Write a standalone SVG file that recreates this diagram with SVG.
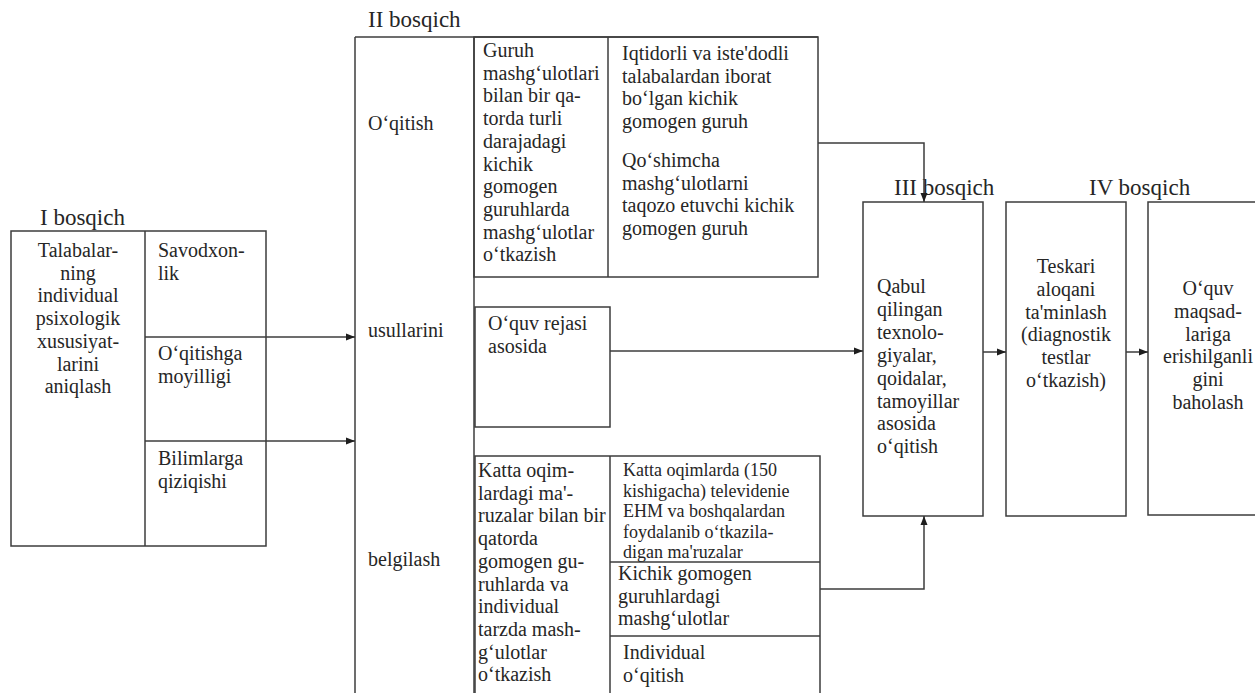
<svg xmlns="http://www.w3.org/2000/svg" width="1255" height="693" viewBox="0 0 1255 693">
  <defs>
    <marker id="arr" markerUnits="userSpaceOnUse" markerWidth="10" markerHeight="8" refX="9" refY="4" orient="auto">
      <path d="M0,0.5 L9,4 L0,7.5 z" fill="#1e1e1e"/>
    </marker>
  </defs>
  <rect width="1255" height="693" fill="#ffffff"/>

  <!-- Stage I -->
  <g id="stage1">
    <g fill="none" stroke="#3c3c3c" stroke-width="1.5">
      <rect x="11" y="231" width="255" height="315"/>
      <line x1="145" y1="231" x2="145" y2="546"/>
      <line x1="145" y1="337" x2="266" y2="337"/>
      <line x1="145" y1="441" x2="266" y2="441"/>
    </g>
    <text font-family="Tinos, Times New Roman, Liberation Serif, serif" font-size="23" fill="#262626" x="40" y="225">I bosqich</text>
    <text font-family="Tinos, Times New Roman, Liberation Serif, serif" font-size="20" fill="#262626" text-anchor="middle" x="78" y="257"><tspan x="78">Talabalar-</tspan><tspan x="78" dy="22.7">ning</tspan><tspan x="78" dy="22.7">individual</tspan><tspan x="78" dy="22.7">psixologik</tspan><tspan x="78" dy="22.7">xususiyat-</tspan><tspan x="78" dy="22.7">larini</tspan><tspan x="78" dy="22.7">aniqlash</tspan></text>
    <text font-family="Tinos, Times New Roman, Liberation Serif, serif" font-size="20" fill="#262626" x="158" y="257"><tspan x="158">Savodxon-</tspan><tspan x="158" dy="22.7">lik</tspan></text>
    <text font-family="Tinos, Times New Roman, Liberation Serif, serif" font-size="20" fill="#262626" x="158" y="360"><tspan x="158">O‘qitishga</tspan><tspan x="158" dy="22.7">moyilligi</tspan></text>
    <text font-family="Tinos, Times New Roman, Liberation Serif, serif" font-size="20" fill="#262626" x="158" y="465"><tspan x="158">Bilimlarga</tspan><tspan x="158" dy="22.7">qiziqishi</tspan></text>
  </g>

  <!-- Stage II: methods column -->
  <g id="stage2">
    <g fill="none" stroke="#3c3c3c" stroke-width="1.5">
      <line x1="355" y1="37" x2="818" y2="37"/>
      <line x1="355" y1="37" x2="355" y2="693"/>
      <line x1="474" y1="37" x2="474" y2="693"/>
    </g>
    <text font-family="Tinos, Times New Roman, Liberation Serif, serif" font-size="23" fill="#262626" x="368" y="27">II bosqich</text>
    <text font-family="Tinos, Times New Roman, Liberation Serif, serif" font-size="20" fill="#262626" x="368" y="130">O‘qitish</text>
    <text font-family="Tinos, Times New Roman, Liberation Serif, serif" font-size="20" fill="#262626" x="368" y="337">usullarini</text>
    <text font-family="Tinos, Times New Roman, Liberation Serif, serif" font-size="20" fill="#262626" x="368" y="566">belgilash</text>
  </g>

  <!-- Stage II: group sessions -->
  <g id="group-sessions">
    <g fill="none" stroke="#3c3c3c" stroke-width="1.5">
      <rect x="474" y="37" width="344" height="240"/>
      <line x1="608" y1="37" x2="608" y2="277"/>
    </g>
    <text font-family="Tinos, Times New Roman, Liberation Serif, serif" font-size="20" fill="#262626" x="483" y="57"><tspan x="483">Guruh</tspan><tspan x="483" dy="22.7">mashg‘ulotlari</tspan><tspan x="483" dy="22.7">bilan bir qa-</tspan><tspan x="483" dy="22.7">torda turli</tspan><tspan x="483" dy="22.7">darajadagi</tspan><tspan x="483" dy="22.7">kichik</tspan><tspan x="483" dy="22.7">gomogen</tspan><tspan x="483" dy="22.7">guruhlarda</tspan><tspan x="483" dy="22.7">mashg‘ulotlar</tspan><tspan x="483" dy="22.7">o‘tkazish</tspan></text>
    <text font-family="Tinos, Times New Roman, Liberation Serif, serif" font-size="20" fill="#262626" x="622" y="60"><tspan x="622">Iqtidorli va iste'dodli</tspan><tspan x="622" dy="22.7">talabalardan iborat</tspan><tspan x="622" dy="22.7">bo‘lgan kichik</tspan><tspan x="622" dy="22.7">gomogen guruh</tspan></text>
    <text font-family="Tinos, Times New Roman, Liberation Serif, serif" font-size="20" fill="#262626" x="622" y="167"><tspan x="622">Qo‘shimcha</tspan><tspan x="622" dy="22.7">mashg‘ulotlarni</tspan><tspan x="622" dy="22.7">taqozo etuvchi kichik</tspan><tspan x="622" dy="22.7">gomogen guruh</tspan></text>
  </g>

  <!-- Stage II: curriculum -->
  <g id="curriculum">
    <rect x="475" y="307" width="135" height="120" fill="none" stroke="#3c3c3c" stroke-width="1.5"/>
    <text font-family="Tinos, Times New Roman, Liberation Serif, serif" font-size="20" fill="#262626" x="488" y="330"><tspan x="488">O‘quv rejasi</tspan><tspan x="488" dy="22.7">asosida</tspan></text>
  </g>

  <!-- Stage II: lectures and individual work -->
  <g id="lectures">
    <g fill="none" stroke="#3c3c3c" stroke-width="1.5">
      <polyline points="475,693 475,456 820,456 820,693"/>
      <line x1="610" y1="456" x2="610" y2="693"/>
      <line x1="610" y1="562" x2="820" y2="562"/>
      <line x1="610" y1="636" x2="820" y2="636"/>
    </g>
    <text font-family="Tinos, Times New Roman, Liberation Serif, serif" font-size="20" fill="#262626" x="478" y="477"><tspan x="478">Katta oqim-</tspan><tspan x="478" dy="22.7">lardagi ma'-</tspan><tspan x="478" dy="22.7">ruzalar bilan bir</tspan><tspan x="478" dy="22.7">qatorda</tspan><tspan x="478" dy="22.7">gomogen gu-</tspan><tspan x="478" dy="22.7">ruhlarda va</tspan><tspan x="478" dy="22.7">individual</tspan><tspan x="478" dy="22.7">tarzda mash-</tspan><tspan x="478" dy="22.7">g‘ulotlar</tspan><tspan x="478" dy="22.7">o‘tkazish</tspan></text>
    <text font-family="Tinos, Times New Roman, Liberation Serif, serif" font-size="18" fill="#262626" x="623" y="476"><tspan x="623">Katta oqimlarda (150</tspan><tspan x="623" dy="20.5">kishigacha) televidenie</tspan><tspan x="623" dy="20.5">EHM va boshqalardan</tspan><tspan x="623" dy="20.5">foydalanib o‘tkazila-</tspan><tspan x="623" dy="20.5">digan ma'ruzalar</tspan></text>
    <text font-family="Tinos, Times New Roman, Liberation Serif, serif" font-size="20" fill="#262626" x="618" y="580"><tspan x="618">Kichik gomogen</tspan><tspan x="618" dy="22.7">guruhlardagi</tspan><tspan x="618" dy="22.7">mashg‘ulotlar</tspan></text>
    <text font-family="Tinos, Times New Roman, Liberation Serif, serif" font-size="20" fill="#262626" x="623" y="659"><tspan x="623">Individual</tspan><tspan x="623" dy="22.7">o‘qitish</tspan></text>
  </g>

  <!-- Stage III -->
  <g id="stage3">
    <rect x="863" y="202" width="120" height="314" fill="none" stroke="#3c3c3c" stroke-width="1.5"/>
    <text font-family="Tinos, Times New Roman, Liberation Serif, serif" font-size="23" fill="#262626" x="894" y="195">III bosqich</text>
    <text font-family="Tinos, Times New Roman, Liberation Serif, serif" font-size="20" fill="#262626" x="877" y="293"><tspan x="877">Qabul</tspan><tspan x="877" dy="22.9">qilingan</tspan><tspan x="877" dy="22.9">texnolo-</tspan><tspan x="877" dy="22.9">giyalar,</tspan><tspan x="877" dy="22.9">qoidalar,</tspan><tspan x="877" dy="22.9">tamoyillar</tspan><tspan x="877" dy="22.9">asosida</tspan><tspan x="877" dy="22.9">o‘qitish</tspan></text>
  </g>

  <!-- Stage IV: feedback -->
  <g id="stage4">
    <rect x="1006" y="202" width="120" height="314" fill="none" stroke="#3c3c3c" stroke-width="1.5"/>
    <text font-family="Tinos, Times New Roman, Liberation Serif, serif" font-size="23" fill="#262626" x="1089" y="195">IV bosqich</text>
    <text font-family="Tinos, Times New Roman, Liberation Serif, serif" font-size="20" fill="#262626" text-anchor="middle" x="1066" y="273"><tspan x="1066">Teskari</tspan><tspan x="1066" dy="22.8">aloqani</tspan><tspan x="1066" dy="22.8">ta'minlash</tspan><tspan x="1066" dy="22.8">(diagnostik</tspan><tspan x="1066" dy="22.8">testlar</tspan><tspan x="1066" dy="22.8">o‘tkazish)</tspan></text>
  </g>

  <!-- Stage IV: evaluation -->
  <g id="evaluation">
    <rect x="1148" y="202" width="130" height="313" fill="none" stroke="#3c3c3c" stroke-width="1.5"/>
    <text font-family="Tinos, Times New Roman, Liberation Serif, serif" font-size="20" fill="#262626" text-anchor="middle" x="1208" y="295"><tspan x="1208">O‘quv</tspan><tspan x="1208" dy="22.8">maqsad-</tspan><tspan x="1208" dy="22.8">lariga</tspan><tspan x="1208" dy="22.8">erishilganli</tspan><tspan x="1208" dy="22.8">gini</tspan><tspan x="1208" dy="22.8">baholash</tspan></text>
  </g>

  <!-- Connectors -->
  <g id="connectors" fill="none" stroke="#3c3c3c" stroke-width="1.5">
    <line x1="266" y1="337" x2="355" y2="337" marker-end="url(#arr)"/>
    <line x1="266" y1="441" x2="355" y2="441" marker-end="url(#arr)"/>
    <polyline points="818,143 924,143 924,202" marker-end="url(#arr)"/>
    <line x1="610" y1="351" x2="863" y2="351" marker-end="url(#arr)"/>
    <polyline points="820,589 924,589 924,516" marker-end="url(#arr)"/>
    <line x1="983" y1="352" x2="1006" y2="352" marker-end="url(#arr)"/>
    <line x1="1126" y1="352" x2="1148" y2="352" marker-end="url(#arr)"/>
  </g>
</svg>
